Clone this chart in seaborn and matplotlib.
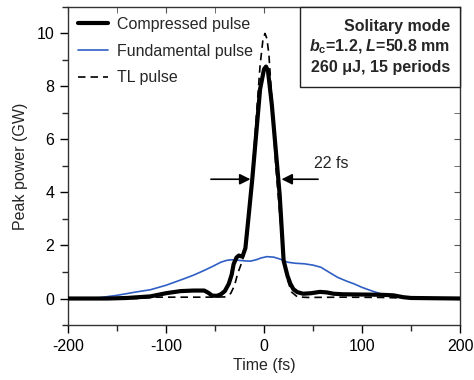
import numpy as np
import pandas as pd
import matplotlib
matplotlib.use("Agg")
import matplotlib.pyplot as plt
import seaborn as sns
from matplotlib.ticker import MultipleLocator
from matplotlib.patches import Rectangle

# ---- data ----
comp_t = [-200, -160, -140, -116, -100, -85, -72, -61, -57, -53, -48, -44, -40, -36, -33,
          -31, -28, -25.7, -22, -19, -16, -12, -8, -4, 0, 2, 4, 8, 12, 16, 20, 24, 27, 30,
          34, 40, 48, 57, 64, 71, 80, 100, 120, 132, 142, 150, 200]
comp_p = [0, 0, 0.02, 0.08, 0.2, 0.28, 0.3, 0.3, 0.22, 0.11, 0.1, 0.16, 0.28, 0.55, 0.9,
          1.3, 1.55, 1.62, 1.58, 1.9, 3.0, 4.5, 6.2, 7.9, 8.65, 8.75, 8.6, 7.3, 5.6, 3.9, 1.43,
          0.85, 0.55, 0.35, 0.24, 0.18, 0.2, 0.25, 0.23, 0.18, 0.16, 0.15, 0.14, 0.12, 0.05,
          0.02, 0]

fund_t = [-200, -170, -150, -130, -116, -100, -82, -72, -61, -52, -44, -38, -34, -28, -20,
          -14, -8, -3, 3, 10, 17, 24, 32, 41, 50, 58, 66, 75, 84, 92, 100, 109, 118, 126,
          136, 146, 160, 200]
fund_p = [0, 0.02, 0.12, 0.25, 0.33, 0.5, 0.74, 0.88, 1.06, 1.22, 1.37, 1.44, 1.46, 1.45,
          1.42, 1.41, 1.46, 1.53, 1.58, 1.56, 1.48, 1.37, 1.33, 1.31, 1.26, 1.18, 1.0, 0.8,
          0.66, 0.55, 0.42, 0.3, 0.19, 0.11, 0.06, 0.03, 0.01, 0]

tl_t = [-200, -130, -110, -60, -40, -34, -30, -27, -22, -17, -12, -8, -4, -1, 1, 3, 5, 8,
        12, 16, 20, 24, 28, 34, 45, 80, 120, 150, 200]
tl_p = [0, 0, 0.05, 0.05, 0.06, 0.19, 0.5, 0.93, 1.43, 2.3, 4.6, 6.8, 8.8, 9.8, 10.0, 9.8,
        9.2, 7.5, 5.0, 3.2, 1.6, 0.7, 0.25, 0.06, 0.04, 0.05, 0.04, 0.01, 0]

labels = ["Compressed pulse", "Fundamental pulse", "TL pulse"]
x_ticks = [-200, -100, 0, 100, 200]
y_ticks = [0, 2, 4, 6, 8, 10]

sns.set_style("ticks")
plt.rcParams['font.family'] = ['Liberation Sans', 'DejaVu Sans']
plt.rcParams['axes.unicode_minus'] = False
plt.rcParams['mathtext.fontset'] = 'custom'
plt.rcParams['mathtext.it'] = 'Liberation Sans:italic:bold'
plt.rcParams['mathtext.rm'] = 'Liberation Sans:bold'
plt.rcParams['mathtext.bf'] = 'Liberation Sans:bold'

fig = plt.figure(figsize=(4.74, 3.8), dpi=100)
ax = fig.add_axes([0.1435, 0.1447, 0.827, 0.837])

df_c = pd.DataFrame({"t": comp_t, "p": comp_p})
df_f = pd.DataFrame({"t": fund_t, "p": fund_p})
df_tl = pd.DataFrame({"t": tl_t, "p": tl_p})

sns.lineplot(data=df_c, x="t", y="p", ax=ax, color="black", lw=3.0, label=labels[0],
             estimator=None, sort=False, zorder=3)
sns.lineplot(data=df_f, x="t", y="p", ax=ax, color="#2f5fc4", lw=1.2, label=labels[1],
             estimator=None, sort=False, zorder=2)
sns.lineplot(data=df_tl, x="t", y="p", ax=ax, color="black", lw=1.2, label=labels[2],
             estimator=None, sort=False, zorder=4)
ax.lines[-1].set_dashes([4.5, 3])

ax.set_xlim(-200, 200)
ax.set_ylim(-1, 11)
ax.set_xticks(x_ticks)
ax.set_yticks(y_ticks)
ax.xaxis.set_minor_locator(MultipleLocator(50))
ax.yaxis.set_minor_locator(MultipleLocator(1))
ax.tick_params(which='major', direction='out', length=6, width=1, labelsize=11.5,
               colors='black', pad=4)
ax.tick_params(which='minor', direction='out', length=4, width=1)
for s in ax.spines.values():
    s.set_linewidth(1.0)
    s.set_color('#333333')
    s.set_visible(True)

secx = ax.secondary_xaxis('top')
secx.set_xticks(x_ticks)
secx.xaxis.set_minor_locator(MultipleLocator(50))
secx.tick_params(which='both', direction='in', labeltop=False, length=4, color='#555555')
secx.spines['top'].set_visible(False)
secy = ax.secondary_yaxis('right')
secy.set_yticks(y_ticks)
secy.yaxis.set_minor_locator(MultipleLocator(1))
secy.tick_params(which='both', direction='in', labelright=False, length=4, color='#555555')
secy.spines['right'].set_visible(False)

ax.set_xlabel("Time (fs)", fontsize=11.5, labelpad=3)
ax.set_ylabel("Peak power (GW)", fontsize=11.5, labelpad=6)

leg = ax.legend(loc='upper left', frameon=False, fontsize=11.5, handlelength=1.9,
                borderaxespad=0.2, labelspacing=0.75, handletextpad=0.55)

ax.add_patch(Rectangle((0.592, 0.748), 0.408, 0.252, transform=ax.transAxes,
                       fc='white', ec='#222222', lw=1.0, zorder=5, clip_on=False))
ax.text(0.974, 0.963,
        "Solitary mode\n$b_{\\rm c}$=1.2, $L$=50.8 mm\n260 μJ, 15 periods",
        transform=ax.transAxes, ha='right', va='top', fontsize=11.5, fontweight='bold',
        linespacing=1.3, zorder=6, multialignment='right')

ax.annotate("", xy=(-11, 4.5), xytext=(-57, 4.5),
            arrowprops=dict(arrowstyle='-|>', color='black', lw=1.2, mutation_scale=16))
ax.annotate("", xy=(15, 4.5), xytext=(58, 4.5),
            arrowprops=dict(arrowstyle='-|>', color='black', lw=1.2, mutation_scale=16))
ax.text(51, 5.1, "22 fs", fontsize=11.5, ha='left', va='center')

fig.savefig("out.png", dpi=100)
